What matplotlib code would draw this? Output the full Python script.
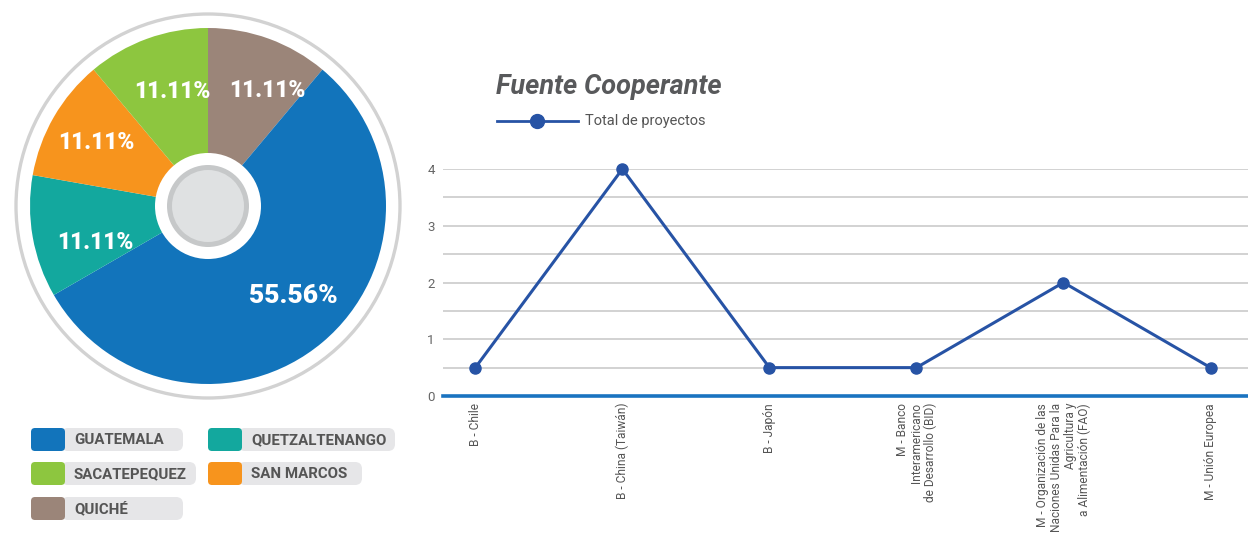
import matplotlib
matplotlib.use("Agg")
import matplotlib.pyplot as plt
from matplotlib.patches import Circle, FancyBboxPatch
import numpy as np

# ---- data ----
pie_labels = ["QUICHÉ", "GUATEMALA", "QUETZALTENANGO", "SAN MARCOS", "SACATEPEQUEZ"]
pie_values = [11.11, 55.56, 11.11, 11.11, 11.11]
pie_colors = ["#9b8579", "#1274bb", "#13a89e", "#f7941d", "#8dc63f"]

legend_order = ["GUATEMALA", "QUETZALTENANGO", "SACATEPEQUEZ", "SAN MARCOS", "QUICHÉ"]

categories = ["B - Chile", "B - China (Taiwán)", "B - Japón",
              "M - Banco\nInteramericano\nde Desarrollo (BID)",
              "M - Organización de las\nNaciones Unidas Para la\nAgricultura y\na Alimentación (FAO)",
              "M - Unión Europea"]
proyectos = [0.5, 4, 0.5, 0.5, 2, 0.5]
y_ticks = [0, 1, 2, 3, 4]

plt.rcParams['font.family'] = ['Roboto', 'DejaVu Sans']

W, H = 1248, 536
fig = plt.figure(figsize=(W / 100, H / 100), dpi=100)
fig.patch.set_facecolor("white")

def px_axes(x0, y0, x1, y1, **kw):
    return fig.add_axes([x0 / W, 1 - y1 / H, (x1 - x0) / W, (y1 - y0) / H], **kw)

# ---- pie ----
cx, cy = 208, 206
axp = px_axes(cx - 200, cy - 200, cx + 200, cy + 200)
wedges, _ = axp.pie(pie_values, colors=pie_colors, startangle=90, counterclock=False,
                    radius=178, wedgeprops=dict(linewidth=0))
axp.set_xlim(-200, 200)
axp.set_ylim(-200, 200)
axp.set_aspect("equal")
axp.axis("off")
axp.add_patch(Circle((0, 0), 192, fill=False, ec="#d2d2d2", lw=2.4))
axp.add_patch(Circle((0, 0), 53, fc="white", ec="none"))
axp.add_patch(Circle((0, 0), 41, fc="#c6c8c9", ec="none"))
axp.add_patch(Circle((0, 0), 36, fc="#dfe1e2", ec="none"))

# percentage labels (label placement: radius, angle in degrees)
label_pos = [(130, 62.6), (124, -46.6), (118, 198), (128, 150.4), (120, 107.5)]
label_size = [16.5, 19, 16.5, 16.5, 16.5]
for v, (r, ang), fs in zip(pie_values, label_pos, label_size):
    x = r * np.cos(np.deg2rad(ang))
    y = r * np.sin(np.deg2rad(ang))
    axp.text(x, y, f"{v:.2f}%", color="white", fontsize=fs, fontweight="heavy",
             ha="center", va="center")

# ---- left legend ----
axo = fig.add_axes([0, 0, 1, 1], zorder=-1)
axo.set_xlim(0, W)
axo.set_ylim(H, 0)
axo.axis("off")
color_map = dict(zip(pie_labels, pie_colors))
pill_ends = {"GUATEMALA": 183, "QUETZALTENANGO": 395, "SACATEPEQUEZ": 196,
             "SAN MARCOS": 362, "QUICHÉ": 183}
for i, name in enumerate(legend_order):
    col, row = i % 2, i // 2
    x0 = 31 if col == 0 else 208
    y0 = [428, 462, 497][row]
    h = 23
    axo.add_patch(FancyBboxPatch((x0 + 30, y0), pill_ends[name] - x0 - 30, h,
                                 boxstyle="round,pad=0,rounding_size=7",
                                 fc="#e6e6e8", ec="none"))
    axo.add_patch(FancyBboxPatch((x0, y0), 34, h,
                                 boxstyle="round,pad=0,rounding_size=4",
                                 fc=color_map[name], ec="none"))
    axo.text(x0 + 43, y0 + h / 2 + 0.5, name, fontsize=10.8, fontweight="bold",
             color="#555555", ha="left", va="center")

# ---- line chart ----
axl = px_axes(443, 169, 1248, 396)
x = np.arange(len(categories))
line_color = "#2753a5"
axl.plot(x, proyectos, color=line_color, lw=2.2, marker="o", ms=8,
         clip_on=False, zorder=3)
axl.set_xlim(-0.22, 5.255)
axl.set_ylim(0, 4)
for yv in np.arange(0.5, 4.01, 0.5):
    axl.axhline(yv, color="#cbcbcb", lw=1.2, zorder=1)
for s in ["top", "right", "left"]:
    axl.spines[s].set_visible(False)
axl.spines["bottom"].set_color("#1a73c0")
axl.spines["bottom"].set_linewidth(2.6)
axl.spines["bottom"].set_zorder(2)
axl.set_yticks(y_ticks)
axl.set_yticklabels([str(t) for t in y_ticks], fontsize=9.5, color="#666666")
axl.tick_params(axis="y", length=0, pad=6)
axl.set_xticks(x)
axl.set_xticklabels(categories, rotation=90, fontsize=8.6, color="#555555",
                    ha="center", va="top", multialignment="right",
                    linespacing=1.1)
axl.tick_params(axis="x", length=0, pad=5)
axl.set_facecolor("none")

# title & legend
fig.text(496 / W, 1 - 86 / H, "Fuente Cooperante", fontsize=19.5, fontstyle="italic",
         fontweight="semibold", color="#58595b", ha="left", va="center")
axo.plot([497, 578], [121, 121], color=line_color, lw=2)
axo.plot([537], [121], marker="o", ms=10, color=line_color)
axo.text(585, 121, "Total de proyectos", fontsize=10.5, color="#555555",
         ha="left", va="center")

fig.savefig("out.png", dpi=100, facecolor="white")
